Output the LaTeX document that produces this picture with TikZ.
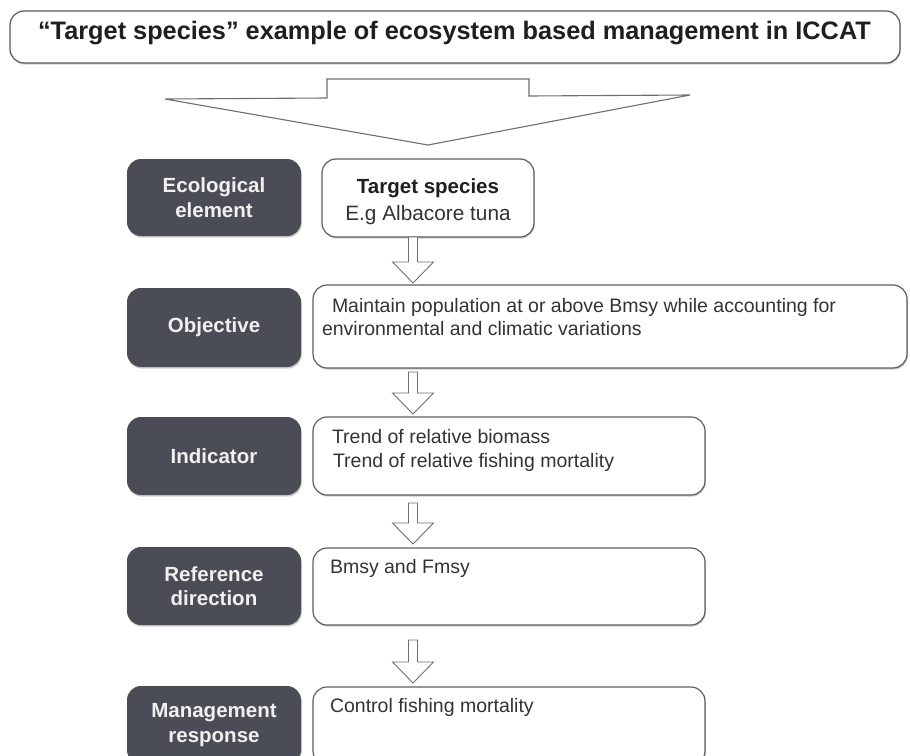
\documentclass[tikz,border=0pt]{standalone}
\usepackage{fontspec}
\setmainfont{Liberation Sans}
\usetikzlibrary{calc,shadows}
\definecolor{darkfill}{HTML}{4A4D55}
\definecolor{edgegray}{HTML}{5E5E5E}
\definecolor{arrowgray}{HTML}{6E6E6E}
\definecolor{txtgray}{HTML}{333333}
\newcommand\hollowarrow[2]{%
  \draw[harrow] let \p1=(#1), \p2=(#2) in
   (\x1-4.5pt,\y1) -- (\x1-4.5pt,\y2+21pt) -- (\x1-20.5pt,\y2+21pt) -- (\x1,\y2)
   -- (\x1+20.5pt,\y2+21pt) -- (\x1+4.5pt,\y2+21pt) -- (\x1+4.5pt,\y1) -- cycle;}
\begin{document}
\begin{tikzpicture}[x=1pt,y=-1pt,
  every node/.style={inner sep=0pt,outer sep=0pt},
  softshadow/.style={drop shadow={shadow xshift=0.8pt,shadow yshift=-1.6pt,opacity=0.28,fill=black!70}},
  labelbox/.style={fill=darkfill,rounded corners=14pt,text=white!94!black,align=center,
    font=\bfseries\fontsize{20.5}{24.5}\selectfont,minimum width=174pt,softshadow},
  whitebox/.style={draw=edgegray,line width=1.2pt,fill=white,rounded corners=14pt,softshadow},
  bodytext/.style={anchor=base west,text=txtgray,font=\fontsize{19.5}{23.5}\selectfont},
  harrow/.style={draw=arrowgray,line width=0.9pt,fill=white,line join=miter},
  bigarrow/.style={draw=arrowgray,line width=1.1pt,fill=white,line join=miter}]
\useasboundingbox (0,0) rectangle (910,755);
\clip (0,0) rectangle (910,755);

% title
\node[whitebox,draw=black!65,minimum width=890pt,minimum height=52pt] (title) at (455,37) {};
\node[anchor=base,text=black!88,font=\bfseries\fontsize{25.3}{30}\selectfont] (titletext) at (454.5,39)
  {“Target species” example of ecosystem based management in ICCAT};

% big arrow
\draw[bigarrow] (327,79) -- (529,79) -- (529,96) -- (690,95) -- (428,145) -- (165,99) -- (327,98) -- cycle;

% left labels
\node[labelbox,minimum height=77pt] (d1) at (214,197.5) {Ecological\\element};
\node[labelbox,minimum height=79pt] (d2) at (214,327.5) {Objective};
\node[labelbox,minimum height=78pt] (d3) at (214,456) {Indicator};
\node[labelbox,minimum height=78pt] (d4) at (214,586) {Reference\\direction};
\node[labelbox,minimum height=78pt] (d5) at (214,725) {Management\\response};

% right boxes
\node[whitebox,minimum width=212pt,minimum height=78pt] (t1) at (428,198) {};
\node[whitebox,minimum width=594pt,minimum height=83pt] (t2) at (610,326.5) {};
\node[whitebox,minimum width=392pt,minimum height=78pt] (t3) at (509,456) {};
\node[whitebox,minimum width=392pt,minimum height=77pt] (t4) at (509,586.5) {};
\node[whitebox,minimum width=392pt,minimum height=78pt] (t5) at (509,726) {};

% texts
\node[anchor=base,text=black!88,font=\bfseries\fontsize{20.5}{24}\selectfont] (t1a) at (428,193) {Target species};
\node[anchor=base,text=txtgray,font=\fontsize{20.8}{24}\selectfont] (t1b) at (428,220) {E.g Albacore tuna};
\node[bodytext] (t2a) at (332,312) {Maintain population at or above Bmsy while accounting for};
\node[bodytext] (t2b) at (322,335) {environmental and climatic variations};
\node[bodytext] (t3a) at (332,443) {Trend of relative biomass};
\node[bodytext] (t3b) at (333,467) {Trend of relative fishing mortality};
\node[bodytext] (t4a) at (330,573) {Bmsy and Fmsy};
\node[bodytext] (t5a) at (330,712) {Control fishing mortality};

% small arrows
\coordinate (ax) at (413,0);
\coordinate (a1s) at (t1.south -| ax);
\coordinate (a1e) at ($(t2.north -| ax)+(0,-2)$);
\coordinate (a2s) at ($(t2.south -| ax)+(0,4)$);
\coordinate (a2e) at ($(t3.north -| ax)+(0,-3)$);
\coordinate (a3s) at ($(t3.south -| ax)+(0,8)$);
\coordinate (a3e) at ($(t4.north -| ax)+(0,-4)$);
\coordinate (a4s) at ($(t4.south -| ax)+(0,15)$);
\coordinate (a4e) at ($(t5.north -| ax)+(0,-4)$);
\hollowarrow{a1s}{a1e}
\hollowarrow{a2s}{a2e}
\hollowarrow{a3s}{a3e}
\hollowarrow{a4s}{a4e}
\end{tikzpicture}
\end{document}
